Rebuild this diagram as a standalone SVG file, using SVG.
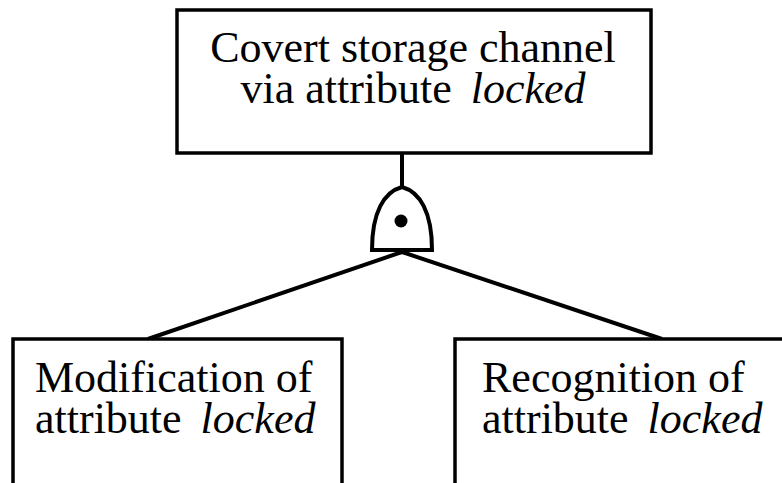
<svg xmlns="http://www.w3.org/2000/svg" width="782" height="483" viewBox="0 0 782 483">
  <style>
    .box { fill: #fff; stroke: #000; stroke-width: 3.5; }
    .edge { fill: none; stroke: #000; stroke-width: 4; }
    .gate { fill: #fff; stroke: #000; stroke-width: 4; }
    text { font-family: "Liberation Serif", "Times New Roman", serif; font-size: 44px; fill: #000; }
    .it { font-style: italic; }
  </style>
  <rect width="782" height="483" fill="#fff"/>
  <g id="connectors">
    <line class="edge" x1="402" y1="153" x2="402" y2="188"/>
    <line class="edge" x1="402" y1="252" x2="148" y2="339"/>
    <line class="edge" x1="402" y1="252" x2="662" y2="339"/>
  </g>
  <g id="top-event">
    <rect class="box" x="177" y="10" width="474" height="143"/>
    <text x="413" y="62" text-anchor="middle">Covert storage channel</text>
    <text x="413" y="103" text-anchor="middle">via attribute <tspan class="it" dx="8">locked</tspan></text>
  </g>
  <g id="and-gate">
    <path class="gate" d="M372,250 L432,250 C432,212 420,192 402,187 C384,192 372,212 372,250 Z"/>
    <circle cx="401" cy="221" r="6.5" fill="#000"/>
  </g>
  <g id="modification">
    <rect class="box" x="13" y="339" width="329" height="160"/>
    <text x="35" y="392">Modification of</text>
    <text x="35" y="433">attribute <tspan class="it" dx="8">locked</tspan></text>
  </g>
  <g id="recognition">
    <rect class="box" x="455" y="339" width="340" height="160"/>
    <text x="482" y="392">Recognition of</text>
    <text x="482" y="433">attribute <tspan class="it" dx="8">locked</tspan></text>
  </g>
</svg>
